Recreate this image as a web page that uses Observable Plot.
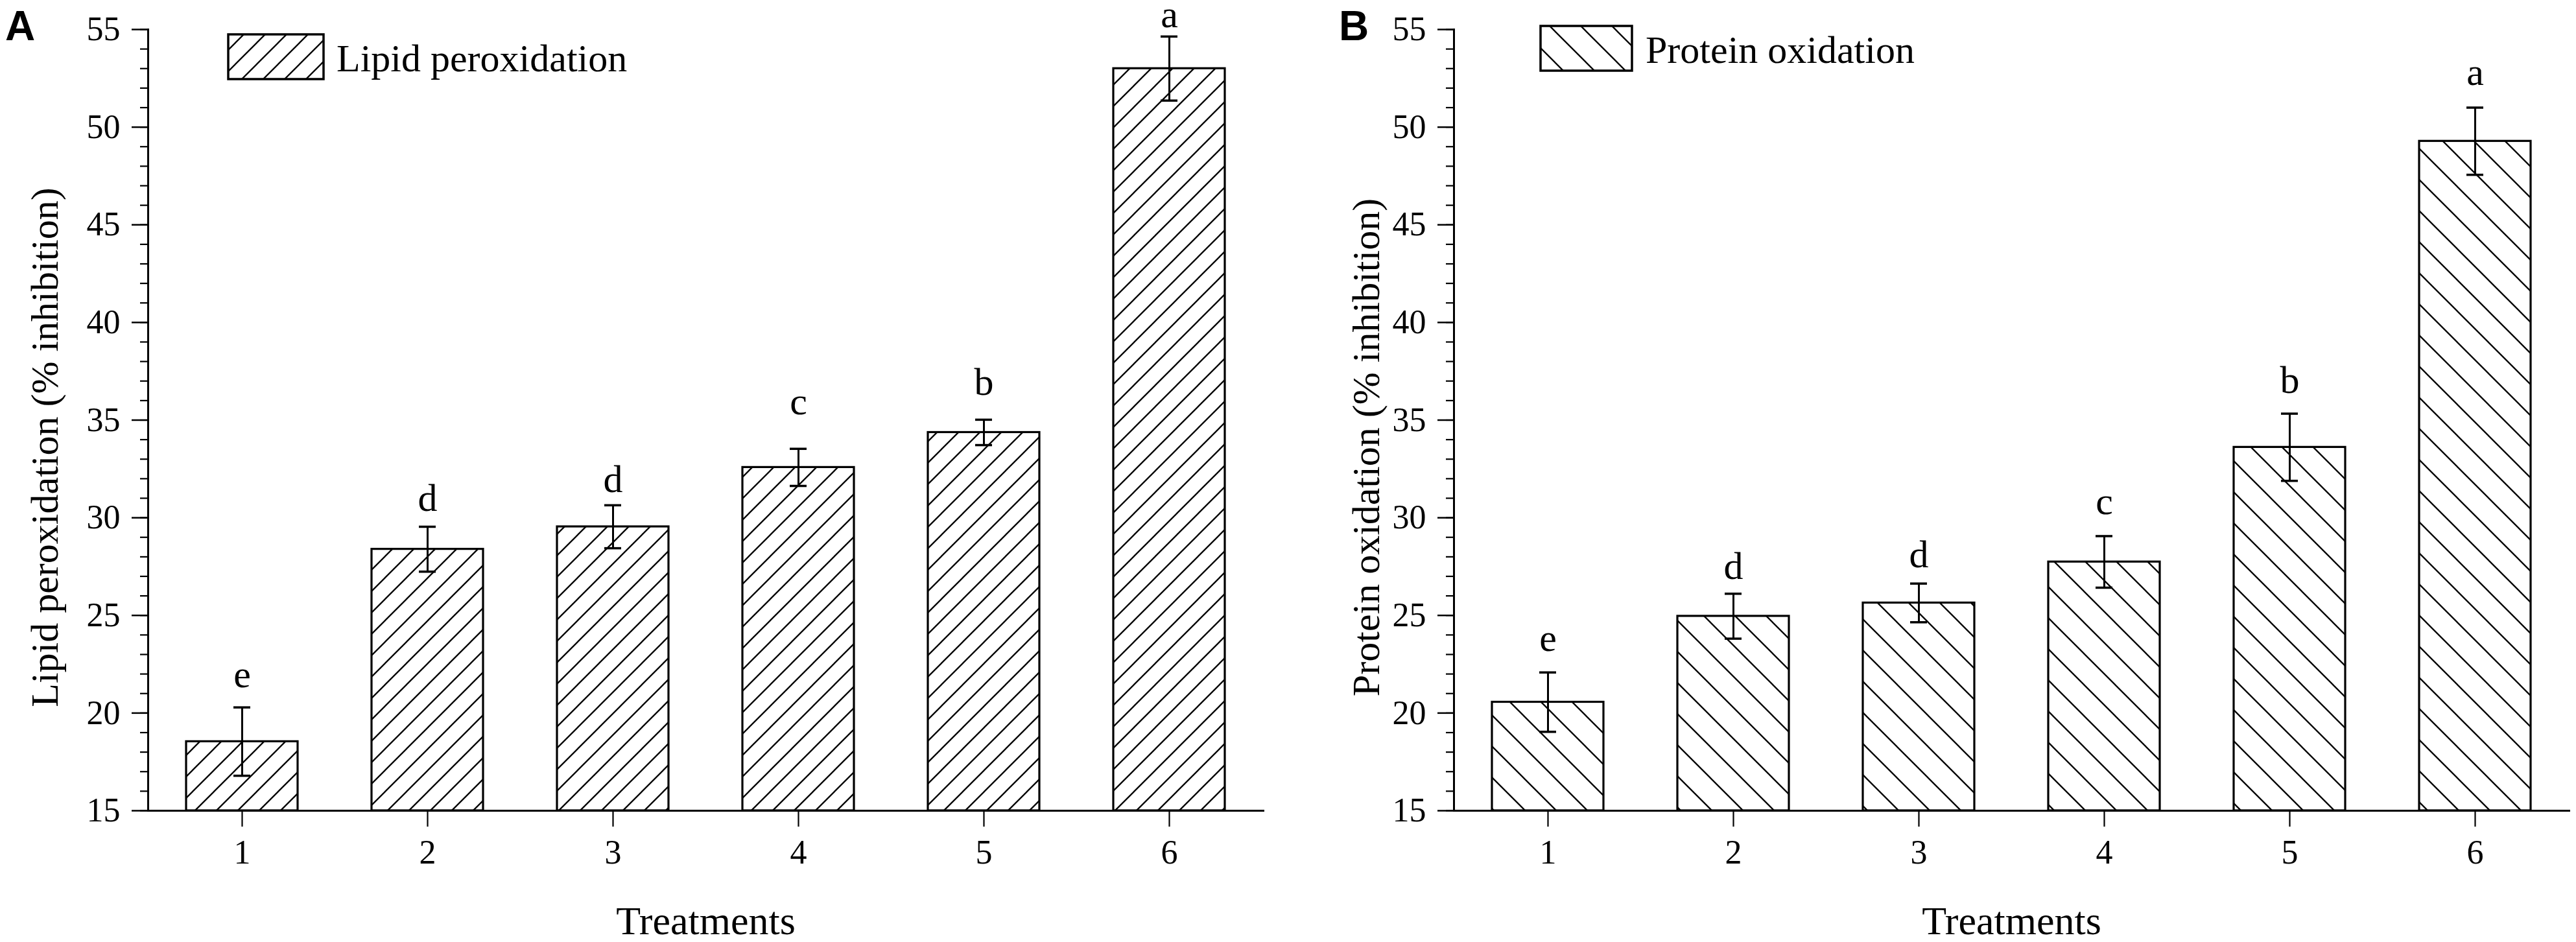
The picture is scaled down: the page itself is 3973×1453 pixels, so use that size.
<!DOCTYPE html>
<html>
<head>
<meta charset="utf-8">
<script src="https://cdn.jsdelivr.net/npm/d3@7"></script>
<script src="https://cdn.jsdelivr.net/npm/@observablehq/plot@0.6"></script>
<style>
  html, body { margin: 0; padding: 0; background: #fff; overflow: hidden; }
  #wrap { position: relative; width: 3973px; height: 1453px; }
  .panel { position: absolute; top: 0; }
</style>
</head>
<body>
<div id="wrap">
  <div id="pa" class="panel" style="left:0px"></div>
  <div id="pb" class="panel" style="left:2014px"></div>
</div>
<script>
// ---- data ----
const treatments = ["1", "2", "3", "4", "5", "6"];
const lipidMean = [18.54, 28.39, 29.54, 32.58, 34.37, 53.0];
const lipidErr = [1.75, 1.15, 1.1, 0.95, 0.65, 1.64];
const lipidLetters = ["e", "d", "d", "c", "b", "a"];
const lipidLetterY = [21.34, 30.34, 31.33, 35.3, 36.28, 55.1];
const proteinMean = [20.56, 24.96, 25.64, 27.74, 33.61, 49.28];
const proteinErr = [1.52, 1.15, 0.99, 1.32, 1.72, 1.72];
const proteinLetters = ["e", "d", "d", "c", "b", "a"];
const proteinLetterY = [23.17, 26.88, 27.46, 30.2, 36.4, 52.15];
const yDomain = [15, 55];
const majorTicks = [15, 20, 25, 30, 35, 40, 45, 50, 55];
const minorTicks = d3.range(15, 56, 1);

const SERIF = "'Liberation Serif', 'Times New Roman', serif";

function makePanel(cfg) {
  const rows = treatments.map((t, i) => ({
    t, mean: cfg.mean[i], lo: cfg.mean[i] - cfg.err[i], hi: cfg.mean[i] + cfg.err[i],
    letter: cfg.letters[i], ly: cfg.letterY[i]
  }));
  const fillUrl = `url(#${cfg.patternId})`;
  const svg = Plot.plot({
    width: 1958,
    height: 1453,
    marginLeft: 228,
    marginRight: 10,
    marginTop: 45,
    marginBottom: 203,
    style: { background: "#fff", color: "#000", fontFamily: SERIF, fontSize: "52px", overflow: "visible" },
    x: { domain: treatments, paddingInner: 0.4, paddingOuter: 0.2 },
    y: { domain: yDomain },
    marks: [
      Plot.barY(rows, { x: "t", y1: yDomain[0], y2: "mean", fill: fillUrl, stroke: "#000", strokeWidth: 3.2 }),
      Plot.ruleX(rows, { x: "t", y1: "lo", y2: "hi", stroke: "#000", strokeWidth: 3 }),
      Plot.tickY(rows, { x: "t", y: "lo", stroke: "#000", strokeWidth: 3.5, insetLeft: 73, insetRight: 73 }),
      Plot.tickY(rows, { x: "t", y: "hi", stroke: "#000", strokeWidth: 3.5, insetLeft: 73, insetRight: 73 }),
      Plot.text(rows, { x: "t", y: "ly", text: "letter", lineAnchor: "bottom", fontSize: 60, fill: "#000" }),
      Plot.frame({ anchor: "left", stroke: "#000", strokeWidth: 3 }),
      Plot.frame({ anchor: "bottom", stroke: "#000", strokeWidth: 3 }),
      Plot.axisY({ ticks: minorTicks, tickSize: 12, text: null, label: null, strokeWidth: 2.2 }),
      Plot.axisY({ ticks: majorTicks, tickSize: 25, tickPadding: 18, fontSize: 52, label: null, strokeWidth: 2.5, tickFormat: d => String(d) }),
      Plot.axisX({ tickSize: 25, tickPadding: 20, fontSize: 52, label: null, strokeWidth: 2.2 }),
      Plot.text([cfg.yTitle], { frameAnchor: "left", rotate: -90, dx: cfg.yTitleDx, dy: 42, lineAnchor: "bottom", textAnchor: "middle", fontSize: 60, fill: "#000" }),
      Plot.text(["Treatments"], { frameAnchor: "bottom", dy: 190, lineAnchor: "bottom", fontSize: 62, fill: "#000" })
    ]
  });

  const s = d3.select(svg);
  const defs = s.insert("defs", ":first-child");
  const p = cfg.hatch;
  const pat = defs.append("pattern")
    .attr("id", cfg.patternId)
    .attr("patternUnits", "userSpaceOnUse")
    .attr("width", p.size).attr("height", p.size);
  pat.append("rect").attr("width", p.size).attr("height", p.size).attr("fill", "#fff");
  const n = p.size;
  const d = p.dir === "/"
    ? `M${-n / 4},${n / 4} L${n / 4},${-n / 4} M0,${n} L${n},0 M${3 * n / 4},${5 * n / 4} L${5 * n / 4},${3 * n / 4}`
    : `M${-n / 4},${3 * n / 4} L${n / 4},${5 * n / 4} M0,0 L${n},${n} M${3 * n / 4},${-n / 4} L${5 * n / 4},${n / 4}`;
  pat.append("path").attr("d", d).attr("stroke", "#000").attr("stroke-width", 2.3).attr("fill", "none");

  // legend
  const L = cfg.legend;
  s.append("rect").attr("x", L.x).attr("y", L.y).attr("width", L.w).attr("height", L.h)
    .attr("fill", fillUrl).attr("stroke", "#000").attr("stroke-width", 3.5);
  s.append("text").attr("x", L.tx).attr("y", L.ty).text(cfg.legendText)
    .attr("text-anchor", "start")
    .attr("font-size", 60).attr("fill", "#000")
    .attr("font-family", SERIF);

  // panel letter
  s.append("text").attr("x", cfg.tag.x).attr("y", 62).text(cfg.tag.text)
    .attr("text-anchor", "start")
    .attr("font-size", 64).attr("font-weight", "bold").attr("fill", "#000")
    .attr("font-family", "'Liberation Sans', Arial, sans-serif");
  return svg;
}

document.getElementById("pa").appendChild(makePanel({
  mean: lipidMean, err: lipidErr, letters: lipidLetters, letterY: lipidLetterY,
  patternId: "hatchA", hatch: { size: 33, dir: "/" },
  yTitle: "Lipid peroxidation (% inhibition)", yTitleDx: -140,
  legend: { x: 352, y: 53, w: 147, h: 69, tx: 519, ty: 110 },
  legendText: "Lipid peroxidation",
  tag: { x: 8, text: "A" }
}));

document.getElementById("pb").appendChild(makePanel({
  mean: proteinMean, err: proteinErr, letters: proteinLetters, letterY: proteinLetterY,
  patternId: "hatchB", hatch: { size: 48, dir: "\\" },
  yTitle: "Protein oxidation (% inhibition)", yTitleDx: -116,
  legend: { x: 362, y: 40, w: 141, h: 69, tx: 524, ty: 97 },
  legendText: "Protein oxidation",
  tag: { x: 51, text: "B" }
}));
</script>
</body>
</html>
